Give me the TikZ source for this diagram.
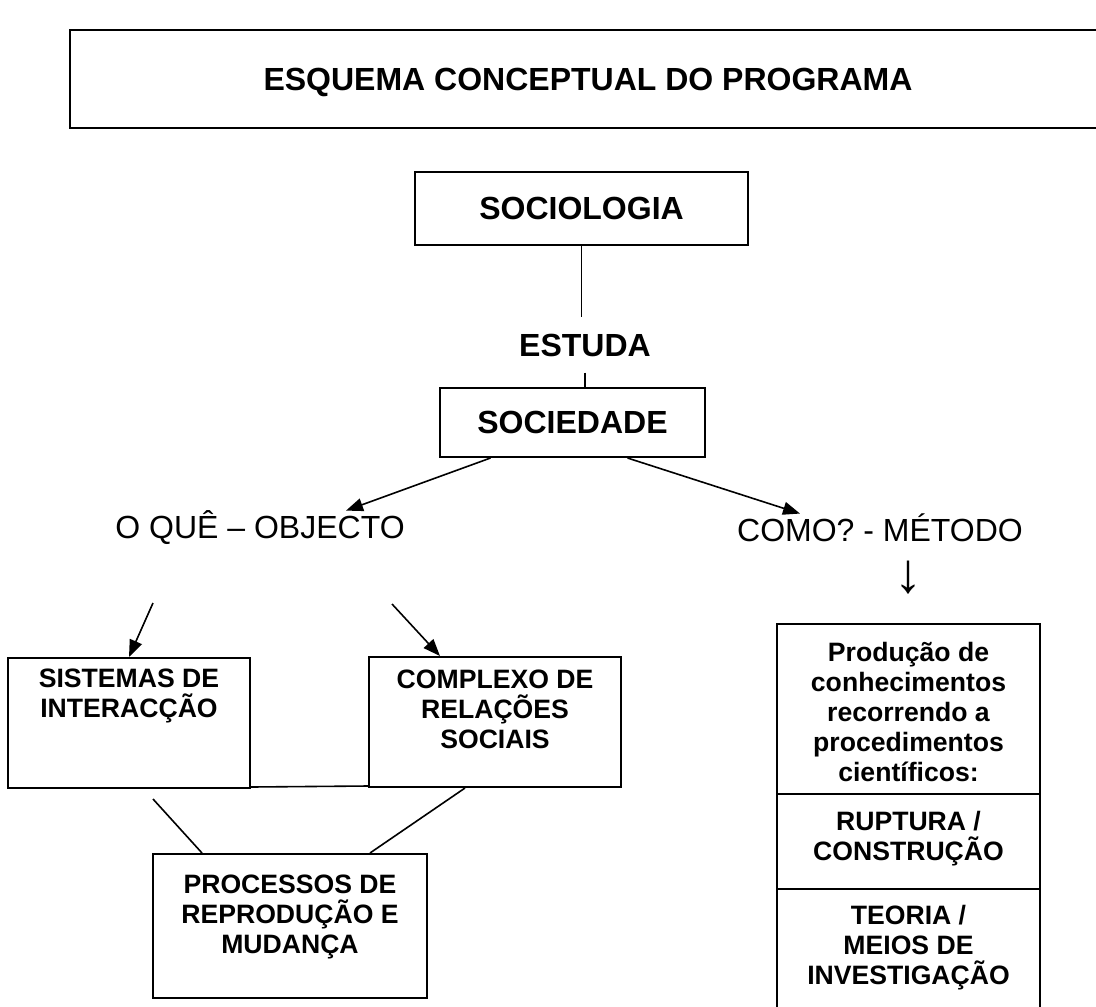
\documentclass[tikz,border=0pt]{standalone}
\usepackage{fontspec}
\setmainfont{Liberation Sans}
\usetikzlibrary{positioning,arrows.meta}

\tikzset{
  box/.style={draw, line width=1pt, inner sep=0pt},
  bigtext/.style={font=\fontsize{16}{18.5}\selectfont\bfseries},
  plaintext/.style={font=\fontsize{16}{18.5}\selectfont, inner sep=0pt},
  boxtext/.style={font=\fontsize{13.3}{15}\selectfont\bfseries, align=center, inner sep=0pt},
  arr/.style={-{Triangle[length=8.5pt,width=6.5pt]}, line width=0.8pt},
  link/.style={line width=0.8pt}
}

\begin{document}
\begin{tikzpicture}[x=0.5pt,y=-0.5pt]

\clip (0,0) rectangle (1096,1006);
\fill[white] (0,0) rectangle (1096,1006);

% Title
\node[box, minimum width=525pt, minimum height=49pt] (title) at (595,79) {};
\node[bigtext] (titletext) at (588,82) {ESQUEMA CONCEPTUAL DO PROGRAMA};

% Top of the scheme
\node[box, bigtext, minimum width=166.5pt, minimum height=36.5pt] (soc) at (581.5,208.5) {SOCIOLOGIA};
\node[bigtext, inner xsep=0pt, inner ysep=8pt] (est) at (585,345) {ESTUDA};
\node[box, bigtext, minimum width=132.5pt, minimum height=34.5pt] (socd) at (572.5,422.5) {SOCIEDADE};

\draw[link] (soc.south) -- (soc.south |- est.north);
\draw[link] (est.south) -- (est.south |- socd.north);

% Object and method
\node[plaintext] (obj) at (260,528) {O QUÊ – OBJECTO};
\node[plaintext] (met) at (880,528) {COMO? - MÉTODO};
\node[plaintext, font=\fontsize{28}{30}\selectfont] (down) at (908,578) {↓};

\draw[arr] ([xshift=-41pt]socd.south) -- ([xshift=43pt]obj.north);
\draw[arr] ([xshift=27.5pt]socd.south) -- ([xshift=-40pt]met.north);

% Left branch
\node[box, minimum width=121pt, minimum height=65pt] (sis) at (129,723) {};
\node[boxtext, below=6pt of sis.north] (sistext) {SISTEMAS DE\\INTERACÇÃO};
\node[box, minimum width=126pt, minimum height=65pt] (comp) at (495,722) {};
\node[boxtext, below=7pt of comp.north] (comptext) {COMPLEXO DE\\RELAÇÕES\\SOCIAIS};
\node[box, minimum width=137pt, minimum height=72pt] (proc) at (290,926) {};
\node[boxtext, below=11pt of proc.north] (proctext) {PROCESSOS DE\\REPRODUÇÃO E\\MUDANÇA};

\coordinate (qa) at (153,603);
\coordinate (qb) at (392,604);
\coordinate (sa) at (153,799);

\draw[arr] (qa) -- (sis.north);
\draw[arr] (qb) -- ([xshift=-27.5pt]comp.north);
\draw[link] ([yshift=1pt]sis.south east) -- ([yshift=1pt]comp.south west);
\draw[link] (sa) -- ([xshift=-44pt]proc.north);
\draw[link] ([xshift=-15pt]comp.south) -- ([xshift=40pt]proc.north);

% Right branch
\node[box, minimum width=131.5pt, minimum height=85pt] (prod) at (908.5,709) {};
\node[boxtext, below=9.5pt of prod.north] (prodtext) {Produção de\\conhecimentos\\recorrendo a\\procedimentos\\científicos:};
\node[box, minimum width=131.5pt, minimum height=47.5pt] (rup) at (908.5,841.5) {};
\node[boxtext, below=9pt of rup.north] (ruptext) {RUPTURA /\\CONSTRUÇÃO};
\node[box, minimum width=131.5pt, minimum height=65pt] (teo) at (908.5,954) {};
\node[boxtext, below=8.5pt of teo.north] (teotext) {TEORIA /\\MEIOS DE\\INVESTIGAÇÃO};

\end{tikzpicture}
\end{document}
